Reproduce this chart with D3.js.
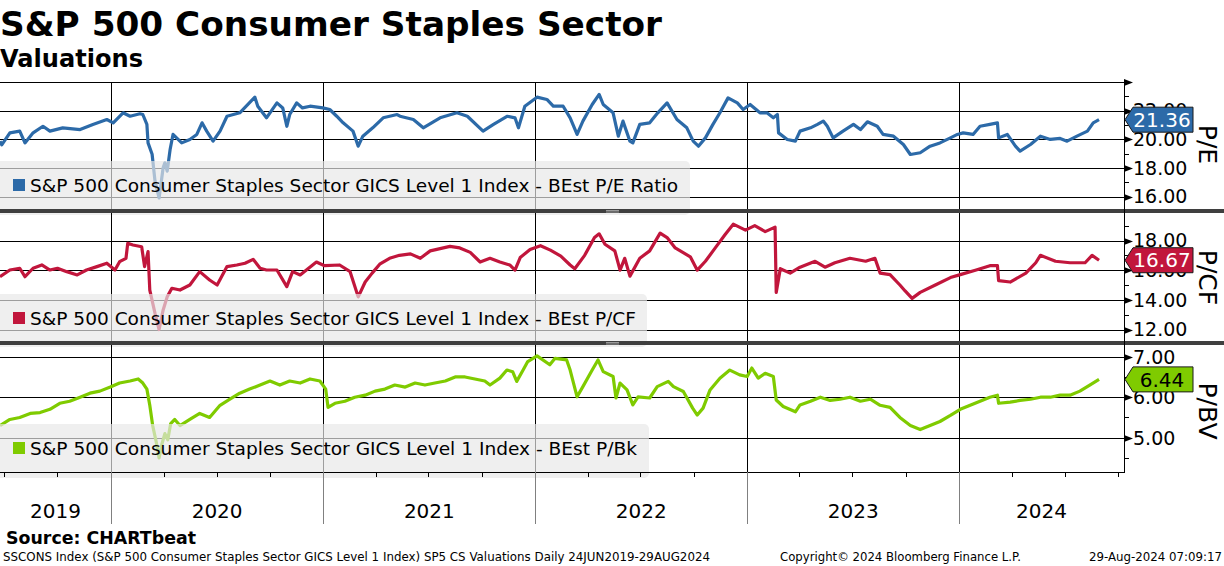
<!DOCTYPE html>
<html>
<head>
<meta charset="utf-8">
<script src="https://cdn.jsdelivr.net/npm/d3@7"></script>
<style>
  body { margin: 0; background: #fff; }
  svg { display: block; }
  text { font-family: "DejaVu Sans", Verdana, sans-serif; }
</style>
</head>
<body>
<svg id="chart" width="1224" height="566"></svg>
<script>
// ---- data ----
var peRatio = [
  ["2019-06-24",19.86],["2019-06-27",19.6],["2019-07-11",20.44],["2019-07-28",20.56],["2019-08-06",19.74],
  ["2019-08-20",20.44],["2019-09-06",20.9],["2019-09-18",20.56],["2019-10-10",20.79],["2019-11-09",20.67],
  ["2019-12-01",21.03],["2019-12-25",21.37],["2020-01-05",21.14],["2020-01-22",21.84],["2020-02-03",21.6],
  ["2020-02-20",21.77],["2020-02-25",21.72],["2020-03-03",21.03],["2020-03-05",19.74],["2020-03-12",18.95],
  ["2020-03-17",17.07],["2020-03-24",15.9],["2020-03-31",18.0],["2020-04-03",18.35],["2020-04-07",17.77],
  ["2020-04-12",19.28],["2020-04-17",20.33],["2020-05-02",19.74],["2020-05-16",19.98],["2020-05-28",20.33],
  ["2020-06-06",21.14],["2020-06-14",20.56],["2020-06-25",19.86],["2020-07-07",20.56],["2020-07-19",21.6],
  ["2020-08-10",21.84],["2020-08-24",22.42],["2020-09-05",22.93],["2020-09-10",22.3],["2020-09-25",21.49],
  ["2020-10-13",22.53],["2020-10-23",22.18],["2020-10-30",20.9],["2020-11-04",21.72],["2020-11-16",22.53],
  ["2020-11-26",22.18],["2020-12-09",22.3],["2020-12-31",22.18],["2021-01-12",22.07],["2021-01-24",21.6],
  ["2021-02-04",21.14],["2021-02-21",20.56],["2021-03-02",19.51],["2021-03-10",20.21],["2021-03-27",20.79],
  ["2021-04-14",21.49],["2021-05-08",21.72],["2021-05-13",21.6],["2021-06-05",21.37],["2021-06-22",20.79],
  ["2021-07-21",21.49],["2021-08-19",21.84],["2021-09-06",21.6],["2021-10-03",20.56],["2021-10-21",21.03],
  ["2021-11-14",21.6],["2021-11-27",21.49],["2021-12-03",20.79],["2021-12-14",22.3],["2022-01-04",22.93],
  ["2022-01-21",22.77],["2022-02-01",22.3],["2022-02-18",22.3],["2022-03-02",21.49],["2022-03-14",20.33],
  ["2022-03-24",21.26],["2022-04-09",22.42],["2022-04-21",23.12],["2022-04-28",22.42],["2022-05-15",21.84],
  ["2022-05-24",20.21],["2022-06-01",21.26],["2022-06-13",19.86],["2022-06-18",19.74],["2022-06-30",21.03],
  ["2022-07-17",21.14],["2022-07-31",21.84],["2022-08-16",22.53],["2022-09-02",21.37],["2022-09-19",20.79],
  ["2022-09-30",19.86],["2022-10-09",19.51],["2022-10-21",20.09],["2022-11-03",21.03],["2022-11-15",21.84],
  ["2022-11-29",22.88],["2022-12-15",22.53],["2022-12-25",22.07],["2023-01-06",22.42],["2023-01-23",21.84],
  ["2023-02-04",21.84],["2023-02-15",21.49],["2023-02-22",21.72],["2023-02-24",20.44],["2023-03-11",19.98],
  ["2023-03-25",19.86],["2023-04-02",20.56],["2023-04-20",20.79],["2023-05-02",21.03],["2023-05-12",21.26],
  ["2023-05-19",20.9],["2023-05-29",20.09],["2023-06-15",20.56],["2023-07-03",21.03],["2023-07-15",20.67],
  ["2023-07-27",21.21],["2023-08-13",20.9],["2023-08-23",20.33],["2023-09-10",20.21],["2023-09-27",19.63],
  ["2023-10-09",18.93],["2023-10-26",19.05],["2023-11-12",19.51],["2023-11-29",19.74],["2023-12-17",20.09],
  ["2023-12-29",20.33],["2024-01-08",20.44],["2024-01-25",20.33],["2024-02-06",20.9],["2024-02-23",21.03],
  ["2024-03-07",21.14],["2024-03-09",20.09],["2024-03-24",20.33],["2024-04-07",19.51],["2024-04-15",19.16],
  ["2024-05-03",19.63],["2024-05-20",20.21],["2024-06-06",19.98],["2024-06-23",20.05],["2024-07-05",19.86],
  ["2024-07-22",20.21],["2024-08-09",20.56],["2024-08-19",21.14],["2024-08-29",21.36]
];
var pcfRatio = [
  ["2019-06-24",15.56],["2019-07-11",16.01],["2019-07-28",16.13],["2019-08-06",15.56],["2019-08-20",16.13],
  ["2019-09-04",16.35],["2019-09-18",16.01],["2019-10-01",16.13],["2019-10-17",15.9],["2019-11-04",15.68],
  ["2019-11-20",16.01],["2019-12-08",16.24],["2019-12-25",16.47],["2020-01-08",16.01],["2020-01-16",16.57],
  ["2020-01-27",16.8],["2020-01-30",17.81],["2020-02-08",17.7],["2020-02-23",17.58],["2020-02-28",16.24],
  ["2020-03-05",17.25],["2020-03-08",14.66],["2020-03-17",13.09],["2020-03-24",12.0],["2020-03-31",13.32],
  ["2020-04-07",14.21],["2020-04-15",14.78],["2020-04-29",14.66],["2020-05-16",15.0],["2020-06-02",15.9],
  ["2020-06-19",15.34],["2020-07-02",15.0],["2020-07-19",16.24],["2020-08-05",16.35],["2020-08-19",16.47],
  ["2020-09-02",16.73],["2020-09-14",16.13],["2020-09-25",16.01],["2020-10-13",16.01],["2020-10-30",14.89],
  ["2020-11-09",15.9],["2020-11-22",15.68],["2020-12-20",16.55],["2021-01-03",16.3],["2021-01-29",16.35],
  ["2021-02-16",15.9],["2021-03-02",14.2],["2021-03-14",15.2],["2021-03-26",15.8],["2021-04-08",16.4],
  ["2021-04-25",16.8],["2021-05-12",17.0],["2021-05-31",17.1],["2021-06-17",16.8],["2021-07-04",17.3],
  ["2021-07-21",17.45],["2021-08-07",17.6],["2021-08-24",17.5],["2021-09-11",17.2],["2021-09-28",16.55],
  ["2021-10-15",16.8],["2021-11-01",16.55],["2021-11-18",16.35],["2021-11-27",16.0],["2021-12-06",16.85],
  ["2021-12-23",17.4],["2022-01-10",17.65],["2022-01-27",17.35],["2022-02-14",16.95],["2022-03-02",16.35],
  ["2022-03-10",16.1],["2022-03-27",17.0],["2022-04-13",18.2],["2022-04-21",18.45],["2022-05-01",17.75],
  ["2022-05-18",17.3],["2022-05-27",16.0],["2022-06-04",16.8],["2022-06-13",15.6],["2022-06-30",16.8],
  ["2022-07-17",17.3],["2022-08-04",18.5],["2022-08-16",18.2],["2022-08-30",17.5],["2022-09-25",16.9],
  ["2022-10-07",16.0],["2022-10-21",16.6],["2022-11-07",17.5],["2022-11-24",18.4],["2022-12-08",19.1],
  ["2022-12-29",18.7],["2023-01-14",19.0],["2023-02-01",18.6],["2023-02-18",18.9],["2023-02-20",14.5],
  ["2023-02-27",16.1],["2023-03-16",15.8],["2023-04-02",16.2],["2023-04-28",16.6],["2023-05-15",16.2],
  ["2023-06-01",16.5],["2023-06-27",16.8],["2023-07-24",16.6],["2023-08-09",16.8],["2023-08-18",15.8],
  ["2023-09-04",15.7],["2023-09-21",15.0],["2023-09-30",14.6],["2023-10-12",14.1],["2023-10-26",14.5],
  ["2023-11-21",15.0],["2023-12-17",15.5],["2024-01-03",15.7],["2024-01-29",16.0],["2024-02-23",16.3],
  ["2024-03-07",16.3],["2024-03-09",15.3],["2024-03-29",15.2],["2024-04-25",15.8],["2024-05-12",16.5],
  ["2024-05-20",17.0],["2024-06-15",16.6],["2024-07-10",16.5],["2024-08-05",16.5],["2024-08-17",17.0],
  ["2024-08-29",16.67]
];
var pbvRatio = [
  ["2019-06-24",5.3],["2019-07-11",5.45],["2019-07-28",5.5],["2019-08-15",5.6],["2019-09-01",5.62],
  ["2019-09-18",5.7],["2019-10-05",5.85],["2019-10-22",5.9],["2019-11-09",6.0],["2019-11-26",6.1],
  ["2019-12-13",6.15],["2019-12-31",6.25],["2020-01-16",6.35],["2020-02-03",6.4],["2020-02-17",6.45],
  ["2020-02-25",6.35],["2020-03-03",6.2],["2020-03-08",5.8],["2020-03-13",5.3],["2020-03-19",4.9],
  ["2020-03-24",4.5],["2020-03-29",4.85],["2020-04-03",5.1],["2020-04-08",4.95],["2020-04-13",5.35],
  ["2020-04-20",5.45],["2020-04-29",5.3],["2020-05-16",5.45],["2020-06-02",5.6],["2020-06-19",5.5],
  ["2020-07-07",5.8],["2020-07-24",5.95],["2020-08-10",6.1],["2020-08-27",6.2],["2020-09-14",6.3],
  ["2020-10-01",6.4],["2020-10-18",6.3],["2020-11-04",6.4],["2020-11-22",6.35],["2020-12-09",6.45],
  ["2020-12-26",6.4],["2021-01-05",6.2],["2021-01-09",5.75],["2021-01-21",5.85],["2021-02-07",5.9],
  ["2021-02-24",6.0],["2021-03-14",6.05],["2021-03-31",6.15],["2021-04-17",6.2],["2021-05-04",6.3],
  ["2021-05-22",6.25],["2021-06-08",6.35],["2021-06-25",6.3],["2021-07-12",6.35],["2021-07-30",6.4],
  ["2021-08-16",6.5],["2021-09-02",6.5],["2021-09-19",6.45],["2021-10-06",6.4],["2021-10-15",6.3],
  ["2021-11-01",6.47],["2021-11-13",6.67],["2021-11-23",6.63],["2021-11-30",6.39],["2021-12-11",6.67],
  ["2021-12-19",6.88],["2022-01-04",7.02],["2022-01-26",6.8],["2022-02-04",6.96],["2022-02-24",6.92],
  ["2022-03-02",6.67],["2022-03-14",6.01],["2022-03-24",6.26],["2022-04-09",6.67],["2022-04-19",6.92],
  ["2022-04-28",6.63],["2022-05-15",6.51],["2022-05-20",5.98],["2022-05-27",6.35],["2022-06-08",6.18],
  ["2022-06-18",5.81],["2022-06-27",6.01],["2022-07-17",5.98],["2022-07-30",6.26],["2022-08-18",6.39],
  ["2022-08-27",6.26],["2022-09-13",6.14],["2022-09-29",5.73],["2022-10-07",5.56],["2022-10-17",5.73],
  ["2022-10-29",6.18],["2022-11-15",6.47],["2022-12-02",6.67],["2022-12-19",6.55],["2023-01-01",6.51],
  ["2023-01-09",6.72],["2023-01-20",6.47],["2023-02-01",6.59],["2023-02-15",6.51],["2023-02-20",5.93],
  ["2023-03-04",5.77],["2023-03-25",5.64],["2023-04-02",5.81],["2023-04-20",5.9],["2023-05-07",6.0],
  ["2023-05-24",5.92],["2023-06-10",5.95],["2023-06-27",6.0],["2023-07-15",5.9],["2023-08-01",5.95],
  ["2023-08-18",5.8],["2023-09-04",5.75],["2023-09-21",5.5],["2023-10-09",5.3],["2023-10-26",5.2],
  ["2023-11-12",5.3],["2023-11-29",5.4],["2023-12-17",5.55],["2024-01-03",5.7],["2024-01-20",5.8],
  ["2024-02-06",5.9],["2024-02-23",6.0],["2024-03-07",6.05],["2024-03-09",5.85],["2024-03-29",5.88],
  ["2024-04-15",5.92],["2024-05-03",5.95],["2024-05-20",6.0],["2024-06-06",6.0],["2024-06-23",6.05],
  ["2024-07-10",6.05],["2024-07-27",6.15],["2024-08-13",6.3],["2024-08-29",6.44]
];
var lastValues = [21.36, 16.67, 6.44];
var seriesNames = [
  "S&P 500 Consumer Staples Sector GICS Level 1 Index - BEst P/E Ratio",
  "S&P 500 Consumer Staples Sector GICS Level 1 Index - BEst P/CF",
  "S&P 500 Consumer Staples Sector GICS Level 1 Index - BEst P/Bk"
];
var axisTitles = ["P/E", "P/CF", "P/BV"];
var yearLabels = ["2019", "2020", "2021", "2022", "2023", "2024"];
var majorTicks = [[16, 18, 20, 22, 24], [12, 14, 16, 18], [5, 6, 7]];
var minorTicks = [[15, 17, 19, 21, 23], [13, 15, 17, 19], [4.5, 5.5, 6.5]];

// ---- layout ----
var W = 1224, H = 566, axisX = 1124;
var parse = d3.timeParse("%Y-%m-%d");
var svg = d3.select("#chart");
svg.append("rect").attr("width", W).attr("height", H).attr("fill", "#fff");

var x = d3.scaleTime()
  .domain([parse("2019-06-24"), parse("2024-10-11")])
  .range([0, axisX]);

var panels = [
  { data: peRatio,  color: "#2c6aa8", txt: "#fff", top: 82,  bottom: 209, dom: [16, 22], rng: [196.5, 110.5], legTop: 161, legW: 690, legLen: 648 },
  { data: pcfRatio, color: "#c1163c", txt: "#fff", top: 213, bottom: 341, dom: [12, 18], rng: [329.5, 240.5], legTop: 294, legW: 647, legLen: 606 },
  { data: pbvRatio, color: "#7fcb00", txt: "#000", top: 345, bottom: 472, dom: [5, 7],   rng: [437.7, 356.7], legTop: 424, legW: 649, legLen: 607 }
];

var years = d3.timeYear.range(parse("2020-01-01"), x.domain()[1]);

// title
svg.append("text").attr("x", 0).attr("y", 36).attr("font-size", 33).attr("font-weight", "bold")
  .attr("textLength", 662).attr("lengthAdjust", "spacingAndGlyphs")
  .text("S&P 500 Consumer Staples Sector");
svg.append("text").attr("x", 0).attr("y", 67).attr("font-size", 24).attr("font-weight", "bold")
  .attr("textLength", 143).attr("lengthAdjust", "spacingAndGlyphs")
  .text("Valuations");

panels.forEach(function (p, i) {
  var y = d3.scaleLinear().domain(p.dom).range(p.rng);
  var g = svg.append("g");

  g.append("clipPath").attr("id", "clip" + i)
    .append("rect").attr("x", 0).attr("y", p.top).attr("width", axisX).attr("height", p.bottom - p.top);

  // horizontal grid
  g.selectAll(".hg").data(majorTicks[i].filter(function (t) { return y(t) >= p.top - 0.6 && y(t) <= p.bottom; }))
    .enter().append("line")
    .attr("x1", 0).attr("x2", axisX)
    .attr("y1", function (t) { return Math.round(y(t)) + 0.5; })
    .attr("y2", function (t) { return Math.round(y(t)) + 0.5; })
    .attr("stroke", "#000").attr("stroke-width", 1);

  // year lines
  g.selectAll(".vg").data(years).enter().append("line")
    .attr("x1", function (d) { return Math.round(x(d)) + 0.5; })
    .attr("x2", function (d) { return Math.round(x(d)) + 0.5; })
    .attr("y1", p.top).attr("y2", p.bottom)
    .attr("stroke", "#000").attr("stroke-width", 1);

  // series line
  var line = d3.line()
    .x(function (d) { return x(parse(d[0])); })
    .y(function (d) { return y(d[1]); });
  g.append("path").datum(p.data)
    .attr("clip-path", "url(#clip" + i + ")")
    .attr("d", line)
    .attr("fill", "none").attr("stroke", p.color).attr("stroke-width", 3.2)
    .attr("stroke-linejoin", "round");

  // legend
  g.append("rect").attr("x", -6).attr("y", p.legTop).attr("width", p.legW + 6).attr("height", p.bottom - p.legTop + 6)
    .attr("rx", 5).attr("fill", "#e8e8e8").attr("opacity", 0.68);
  g.append("rect").attr("x", 13).attr("y", p.legTop + 18).attr("width", 12).attr("height", 12).attr("fill", p.color);
  g.append("text").attr("x", 30).attr("y", p.legTop + 31).attr("font-size", 18)
    .attr("textLength", p.legLen).attr("lengthAdjust", "spacingAndGlyphs")
    .text(seriesNames[i]);

  // right axis ticks
  var ax = svg.append("g");
  ax.selectAll(".mt").data(majorTicks[i].filter(function (t) { return y(t) >= p.top - 1 && y(t) <= p.bottom; }))
    .enter().append("path")
    .attr("d", function (t) { var yy = Math.round(y(t)) + 0.5; return "M" + axisX + "," + (yy - 3.5) + "L" + (axisX + 9) + "," + yy + "L" + axisX + "," + (yy + 3.5) + "Z"; })
    .attr("fill", "#000");
  ax.selectAll(".mn").data(minorTicks[i].filter(function (t) { return y(t) >= p.top && y(t) <= p.bottom; }))
    .enter().append("line")
    .attr("x1", axisX).attr("x2", axisX + 5)
    .attr("y1", function (t) { return Math.round(y(t)) + 0.5; })
    .attr("y2", function (t) { return Math.round(y(t)) + 0.5; })
    .attr("stroke", "#000");
  ax.selectAll(".tl").data(majorTicks[i].filter(function (t) { return y(t) >= p.top + 8 && y(t) <= p.bottom - 4; }))
    .enter().append("text")
    .attr("x", axisX + 9).attr("y", function (t) { return y(t); })
    .attr("dy", "0.36em").attr("font-size", 19)
    .text(function (t) { return d3.format(".2f")(t); });

  // last value box
  var cy = y(lastValues[i]);
  ax.append("path")
    .attr("d", "M" + (axisX + 1) + "," + cy + "L" + (axisX + 9) + "," + (cy - 12.5) + "L1193," + (cy - 12.5) +
      "L1193," + (cy + 12.5) + "L" + (axisX + 9) + "," + (cy + 12.5) + "Z")
    .attr("fill", p.color).attr("stroke", "#1a1a1a").attr("stroke-width", 1);
  ax.append("text").attr("x", 1162).attr("y", cy).attr("dy", "0.36em")
    .attr("text-anchor", "middle").attr("font-size", 20).attr("fill", p.txt)
    .text(d3.format(".2f")(lastValues[i]));

  // axis title
  var tc = [144.5, 277.5, 411][i];
  ax.append("text").attr("transform", "translate(1199," + tc + ") rotate(90)")
    .attr("text-anchor", "middle").attr("font-size", 25)
    .text(axisTitles[i]);
});

// separators between panels
[209, 341].forEach(function (sy) {
  svg.append("rect").attr("x", 0).attr("y", sy).attr("width", W).attr("height", 4).attr("fill", "#3f3f3f");
  svg.append("line").attr("x1", 606).attr("x2", 619).attr("y1", sy + 1.5).attr("y2", sy + 1.5).attr("stroke", "#9a9a9a");
  svg.append("line").attr("x1", 606).attr("x2", 619).attr("y1", sy + 3).attr("y2", sy + 3).attr("stroke", "#9a9a9a");
});

// right axis line
svg.append("line").attr("x1", axisX + 0.5).attr("x2", axisX + 0.5).attr("y1", 82).attr("y2", 472).attr("stroke", "#000");

// bottom time axis
var xb = svg.append("g");
xb.append("line").attr("x1", 0).attr("x2", axisX + 1).attr("y1", 472.5).attr("y2", 472.5).attr("stroke", "#000");
var quarters = d3.timeMonth.every(3).range(parse("2019-07-01"), x.domain()[1]);
xb.selectAll(".qt").data(quarters).enter().append("line")
  .attr("x1", function (d) { return Math.round(x(d)) + 0.5; })
  .attr("x2", function (d) { return Math.round(x(d)) + 0.5; })
  .attr("y1", 472).attr("y2", 477).attr("stroke", "#000");
xb.selectAll(".yl").data(years).enter().append("line")
  .attr("x1", function (d) { return Math.round(x(d)) + 0.5; })
  .attr("x2", function (d) { return Math.round(x(d)) + 0.5; })
  .attr("y1", 472).attr("y2", 524).attr("stroke", "#808080");
var bounds = [x.domain()[0]].concat(years).concat([x.domain()[1]]);
xb.selectAll(".yt").data(yearLabels).enter().append("text")
  .attr("x", function (d, k) { return (x(bounds[k]) + x(bounds[k + 1])) / 2; })
  .attr("y", 518).attr("text-anchor", "middle").attr("font-size", 20)
  .text(function (d) { return d; });

// footer
svg.append("text").attr("x", 6).attr("y", 544).attr("font-size", 17).attr("font-weight", "bold")
  .attr("textLength", 190).attr("lengthAdjust", "spacingAndGlyphs").text("Source: CHARTbeat");
svg.append("text").attr("x", 3).attr("y", 561).attr("font-size", 11.5)
  .attr("textLength", 707).attr("lengthAdjust", "spacingAndGlyphs")
  .text("SSCONS Index (S&P 500 Consumer Staples Sector GICS Level 1 Index) SP5 CS Valuations  Daily 24JUN2019-29AUG2024");
svg.append("text").attr("x", 780).attr("y", 561).attr("font-size", 11.5)
  .attr("textLength", 241).attr("lengthAdjust", "spacingAndGlyphs")
  .text("Copyright\u00a9 2024 Bloomberg Finance L.P.");
svg.append("text").attr("x", 1089).attr("y", 561).attr("font-size", 11.5)
  .attr("textLength", 133).attr("lengthAdjust", "spacingAndGlyphs")
  .text("29-Aug-2024 07:09:17");
</script>
</body>
</html>
